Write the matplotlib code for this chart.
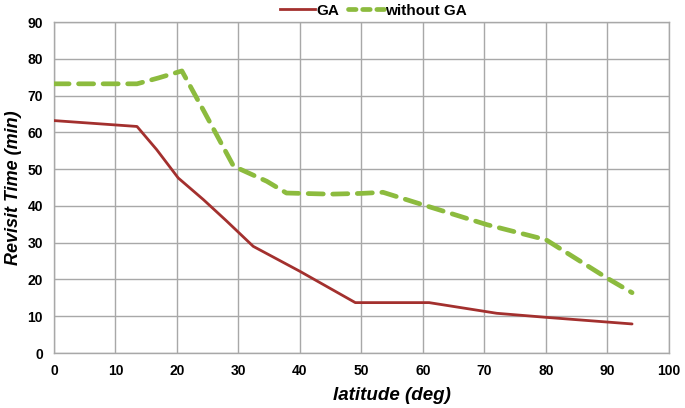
import matplotlib.pyplot as plt
from matplotlib.lines import Line2D

# Values
lat_ga = [0, 13.5, 16.7, 20.2, 24.3, 28, 32.4, 40, 49, 61, 72, 80, 94]
time_ga = [63.2, 61.6, 55.3, 47.6, 41.7, 36, 29, 22.2, 13.7, 13.7, 10.8, 9.7, 7.9]

lat_nga = [0, 13.5, 17, 20.8, 24.3, 29.2, 34.6, 37.8, 45, 50, 53.5, 60, 70.4, 80, 90, 94]
time_nga = [73.2, 73.2, 74.8, 76.7, 66, 50.8, 46.7, 43.5, 43.2, 43.4, 43.7, 40.3, 34.9, 30.8, 20.3, 16.4]

xticks = list(range(0, 101, 10))
yticks = list(range(0, 91, 10))

plt.rcParams['font.family'] = ['Liberation Sans', 'DejaVu Sans']

fig = plt.figure(figsize=(6.85, 4.08), dpi=100)
ax = fig.add_axes([0.0788, 0.1348, 0.8978, 0.8112])

red = '#a3302e'
green = '#8cbb3e'

ax.plot(lat_ga, time_ga, color=red, linewidth=2.0, solid_capstyle='round', zorder=3)
ax.plot(lat_nga, time_nga, color=green, linewidth=3.4, dashes=(3.2, 2.0),
        dash_capstyle='round', zorder=3)

ax.set_xlim(0, 100)
ax.set_ylim(0, 90)
ax.set_xticks(xticks)
ax.set_yticks(yticks)
ax.grid(True, color='#a8a8a8', linewidth=1.0)
ax.set_axisbelow(True)
for s in ax.spines.values():
    s.set_color('#a8a8a8')
    s.set_linewidth(1.0)
ax.tick_params(length=0, labelsize=10, pad=8)
for lbl in ax.get_xticklabels() + ax.get_yticklabels():
    lbl.set_fontweight('bold')

ax.set_xlabel('latitude (deg)', fontsize=13.5, fontweight='bold', style='italic')
ax.set_ylabel('Revisit Time (min)', fontsize=13, fontweight='bold', style='italic')
ax.xaxis.set_label_coords(0.55, -0.103)
ax.yaxis.set_label_coords(-0.052, 0.5)

handles = [Line2D([], [], color=red, linewidth=2.0),
           Line2D([], [], color=green, linewidth=3.4, dashes=(1.6, 1.4), dash_capstyle='round')]
fig.legend(handles, ['GA', 'without GA'], loc='upper center', bbox_to_anchor=(0.545, 1.025),
           ncol=2, frameon=False, handlelength=2.3, handletextpad=0.1, columnspacing=0.6,
           prop={'weight': 'bold', 'size': 11})

fig.savefig('out.png', dpi=100)
